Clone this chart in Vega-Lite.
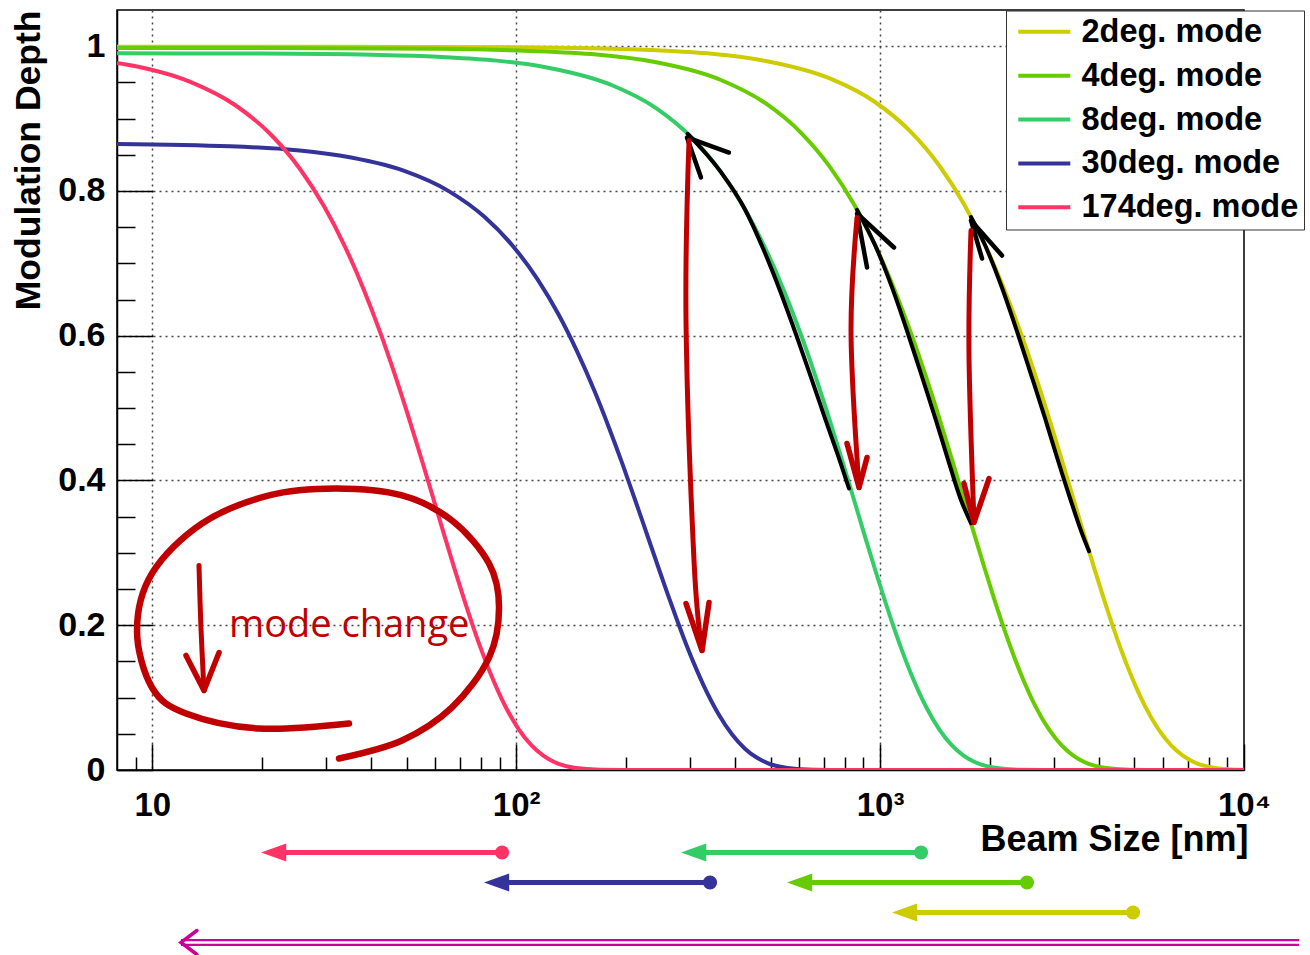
{
  "$schema": "https://vega.github.io/schema/vega-lite/v6.json",
  "background": "white",
  "padding": {"left": 10, "top": 9, "right": 0, "bottom": 0},
  "config": {"view": {"stroke": null}, "font": "Liberation Sans"},
  "bounds": "flush",
  "spacing": 67.5,
  "resolve": {"scale": {"x": "independent", "color": "independent"}},
  "datasets": {
    "curves": [
      {"mode": "2deg. mode", "sigma": 8, "M": 0.99939},
      {"mode": "2deg. mode", "sigma": 30, "M": 0.99931},
      {"mode": "2deg. mode", "sigma": 100, "M": 0.99854},
      {"mode": "2deg. mode", "sigma": 150, "M": 0.99748},
      {"mode": "2deg. mode", "sigma": 242.6, "M": 0.9944},
      {"mode": "2deg. mode", "sigma": 485.2, "M": 0.9796},
      {"mode": "2deg. mode", "sigma": 727.7, "M": 0.95542},
      {"mode": "2deg. mode", "sigma": 970.3, "M": 0.92256},
      {"mode": "2deg. mode", "sigma": 1212.9, "M": 0.88196},
      {"mode": "2deg. mode", "sigma": 1455.5, "M": 0.83476},
      {"mode": "2deg. mode", "sigma": 1698.0, "M": 0.78222},
      {"mode": "2deg. mode", "sigma": 1940.6, "M": 0.72571},
      {"mode": "2deg. mode", "sigma": 2183.2, "M": 0.66657},
      {"mode": "2deg. mode", "sigma": 2425.8, "M": 0.60616},
      {"mode": "2deg. mode", "sigma": 2668.3, "M": 0.54574},
      {"mode": "2deg. mode", "sigma": 2910.9, "M": 0.48645},
      {"mode": "2deg. mode", "sigma": 3153.5, "M": 0.4293},
      {"mode": "2deg. mode", "sigma": 3396.1, "M": 0.37508},
      {"mode": "2deg. mode", "sigma": 3638.6, "M": 0.32445},
      {"mode": "2deg. mode", "sigma": 3881.2, "M": 0.27787},
      {"mode": "2deg. mode", "sigma": 4123.8, "M": 0.23561},
      {"mode": "2deg. mode", "sigma": 4366.4, "M": 0.19778},
      {"mode": "2deg. mode", "sigma": 4608.9, "M": 0.16437},
      {"mode": "2deg. mode", "sigma": 4851.5, "M": 0.13526},
      {"mode": "2deg. mode", "sigma": 5336.7, "M": 0.08887},
      {"mode": "2deg. mode", "sigma": 5821.8, "M": 0.0561},
      {"mode": "2deg. mode", "sigma": 6307.0, "M": 0.03403},
      {"mode": "2deg. mode", "sigma": 6792.1, "M": 0.01983},
      {"mode": "2deg. mode", "sigma": 7277.3, "M": 0.0111},
      {"mode": "2deg. mode", "sigma": 8247.6, "M": 0.00309},
      {"mode": "2deg. mode", "sigma": 9703, "M": 0.00034},
      {"mode": "2deg. mode", "sigma": 10000, "M": 0.0002},

      {"mode": "4deg. mode", "sigma": 8, "M": 0.99756},
      {"mode": "4deg. mode", "sigma": 30, "M": 0.99725},
      {"mode": "4deg. mode", "sigma": 60, "M": 0.99634},
      {"mode": "4deg. mode", "sigma": 121.3, "M": 0.99258},
      {"mode": "4deg. mode", "sigma": 242.6, "M": 0.97781},
      {"mode": "4deg. mode", "sigma": 363.9, "M": 0.95367},
      {"mode": "4deg. mode", "sigma": 485.2, "M": 0.92087},
      {"mode": "4deg. mode", "sigma": 606.5, "M": 0.88035},
      {"mode": "4deg. mode", "sigma": 727.8, "M": 0.83323},
      {"mode": "4deg. mode", "sigma": 849.1, "M": 0.78079},
      {"mode": "4deg. mode", "sigma": 970.4, "M": 0.72438},
      {"mode": "4deg. mode", "sigma": 1091.7, "M": 0.66535},
      {"mode": "4deg. mode", "sigma": 1213.1, "M": 0.60505},
      {"mode": "4deg. mode", "sigma": 1334.4, "M": 0.54474},
      {"mode": "4deg. mode", "sigma": 1455.7, "M": 0.48556},
      {"mode": "4deg. mode", "sigma": 1577.0, "M": 0.42851},
      {"mode": "4deg. mode", "sigma": 1698.3, "M": 0.37439},
      {"mode": "4deg. mode", "sigma": 1819.6, "M": 0.32386},
      {"mode": "4deg. mode", "sigma": 1940.9, "M": 0.27736},
      {"mode": "4deg. mode", "sigma": 2062.2, "M": 0.23517},
      {"mode": "4deg. mode", "sigma": 2183.5, "M": 0.19742},
      {"mode": "4deg. mode", "sigma": 2304.8, "M": 0.16407},
      {"mode": "4deg. mode", "sigma": 2426.1, "M": 0.13501},
      {"mode": "4deg. mode", "sigma": 2668.7, "M": 0.0887},
      {"mode": "4deg. mode", "sigma": 2911.3, "M": 0.05599},
      {"mode": "4deg. mode", "sigma": 3153.9, "M": 0.03397},
      {"mode": "4deg. mode", "sigma": 3396.5, "M": 0.01979},
      {"mode": "4deg. mode", "sigma": 3639.2, "M": 0.01108},
      {"mode": "4deg. mode", "sigma": 4124.4, "M": 0.00308},
      {"mode": "4deg. mode", "sigma": 4852.2, "M": 0.00034},
      {"mode": "4deg. mode", "sigma": 6065, "M": 0.0},
      {"mode": "4deg. mode", "sigma": 10000, "M": 0.0},

      {"mode": "8deg. mode", "sigma": 8, "M": 0.99018},
      {"mode": "8deg. mode", "sigma": 20, "M": 0.98973},
      {"mode": "8deg. mode", "sigma": 40, "M": 0.98812},
      {"mode": "8deg. mode", "sigma": 60.7, "M": 0.98533},
      {"mode": "8deg. mode", "sigma": 121.4, "M": 0.97066},
      {"mode": "8deg. mode", "sigma": 182.1, "M": 0.9467},
      {"mode": "8deg. mode", "sigma": 242.8, "M": 0.91414},
      {"mode": "8deg. mode", "sigma": 303.4, "M": 0.87391},
      {"mode": "8deg. mode", "sigma": 364.1, "M": 0.82714},
      {"mode": "8deg. mode", "sigma": 424.8, "M": 0.77508},
      {"mode": "8deg. mode", "sigma": 485.5, "M": 0.71908},
      {"mode": "8deg. mode", "sigma": 546.2, "M": 0.66049},
      {"mode": "8deg. mode", "sigma": 606.9, "M": 0.60063},
      {"mode": "8deg. mode", "sigma": 667.6, "M": 0.54076},
      {"mode": "8deg. mode", "sigma": 728.3, "M": 0.48201},
      {"mode": "8deg. mode", "sigma": 789.0, "M": 0.42538},
      {"mode": "8deg. mode", "sigma": 849.7, "M": 0.37166},
      {"mode": "8deg. mode", "sigma": 910.3, "M": 0.32149},
      {"mode": "8deg. mode", "sigma": 971.0, "M": 0.27533},
      {"mode": "8deg. mode", "sigma": 1031.7, "M": 0.23346},
      {"mode": "8deg. mode", "sigma": 1092.4, "M": 0.19597},
      {"mode": "8deg. mode", "sigma": 1153.1, "M": 0.16287},
      {"mode": "8deg. mode", "sigma": 1213.8, "M": 0.13402},
      {"mode": "8deg. mode", "sigma": 1335.2, "M": 0.08805},
      {"mode": "8deg. mode", "sigma": 1456.6, "M": 0.05558},
      {"mode": "8deg. mode", "sigma": 1577.9, "M": 0.03372},
      {"mode": "8deg. mode", "sigma": 1699.3, "M": 0.01965},
      {"mode": "8deg. mode", "sigma": 1820.7, "M": 0.011},
      {"mode": "8deg. mode", "sigma": 2063.5, "M": 0.00306},
      {"mode": "8deg. mode", "sigma": 2427.6, "M": 0.00034},
      {"mode": "8deg. mode", "sigma": 3034.5, "M": 0.0},
      {"mode": "8deg. mode", "sigma": 10000, "M": 0.0},

      {"mode": "30deg. mode", "sigma": 8, "M": 0.86499},
      {"mode": "30deg. mode", "sigma": 16.36, "M": 0.86171},
      {"mode": "30deg. mode", "sigma": 32.71, "M": 0.84887},
      {"mode": "30deg. mode", "sigma": 49.07, "M": 0.82792},
      {"mode": "30deg. mode", "sigma": 65.43, "M": 0.79945},
      {"mode": "30deg. mode", "sigma": 81.79, "M": 0.76427},
      {"mode": "30deg. mode", "sigma": 98.14, "M": 0.72337},
      {"mode": "30deg. mode", "sigma": 114.5, "M": 0.67784},
      {"mode": "30deg. mode", "sigma": 130.9, "M": 0.62887},
      {"mode": "30deg. mode", "sigma": 147.2, "M": 0.57763},
      {"mode": "30deg. mode", "sigma": 163.6, "M": 0.52527},
      {"mode": "30deg. mode", "sigma": 179.9, "M": 0.47291},
      {"mode": "30deg. mode", "sigma": 196.3, "M": 0.42154},
      {"mode": "30deg. mode", "sigma": 212.6, "M": 0.37201},
      {"mode": "30deg. mode", "sigma": 229.0, "M": 0.32503},
      {"mode": "30deg. mode", "sigma": 245.4, "M": 0.28116},
      {"mode": "30deg. mode", "sigma": 261.7, "M": 0.24079},
      {"mode": "30deg. mode", "sigma": 278.1, "M": 0.20417},
      {"mode": "30deg. mode", "sigma": 294.4, "M": 0.17139},
      {"mode": "30deg. mode", "sigma": 310.8, "M": 0.14244},
      {"mode": "30deg. mode", "sigma": 327.1, "M": 0.11721},
      {"mode": "30deg. mode", "sigma": 359.9, "M": 0.07701},
      {"mode": "30deg. mode", "sigma": 392.6, "M": 0.04861},
      {"mode": "30deg. mode", "sigma": 425.3, "M": 0.02949},
      {"mode": "30deg. mode", "sigma": 458.0, "M": 0.01718},
      {"mode": "30deg. mode", "sigma": 490.7, "M": 0.00962},
      {"mode": "30deg. mode", "sigma": 556.1, "M": 0.00268},
      {"mode": "30deg. mode", "sigma": 654.3, "M": 0.00029},
      {"mode": "30deg. mode", "sigma": 817.9, "M": 0.0},
      {"mode": "30deg. mode", "sigma": 10000, "M": 0.0},

      {"mode": "174deg. mode", "sigma": 8, "M": 0.97697},
      {"mode": "174deg. mode", "sigma": 8.48, "M": 0.97483},
      {"mode": "174deg. mode", "sigma": 12.72, "M": 0.95076},
      {"mode": "174deg. mode", "sigma": 16.96, "M": 0.91806},
      {"mode": "174deg. mode", "sigma": 21.2, "M": 0.87766},
      {"mode": "174deg. mode", "sigma": 25.44, "M": 0.83069},
      {"mode": "174deg. mode", "sigma": 29.68, "M": 0.77841},
      {"mode": "174deg. mode", "sigma": 33.92, "M": 0.72217},
      {"mode": "174deg. mode", "sigma": 38.16, "M": 0.66332},
      {"mode": "174deg. mode", "sigma": 42.4, "M": 0.60321},
      {"mode": "174deg. mode", "sigma": 46.63, "M": 0.54308},
      {"mode": "174deg. mode", "sigma": 50.87, "M": 0.48408},
      {"mode": "174deg. mode", "sigma": 55.11, "M": 0.42721},
      {"mode": "174deg. mode", "sigma": 59.35, "M": 0.37325},
      {"mode": "174deg. mode", "sigma": 63.59, "M": 0.32287},
      {"mode": "174deg. mode", "sigma": 67.83, "M": 0.27652},
      {"mode": "174deg. mode", "sigma": 72.07, "M": 0.23446},
      {"mode": "174deg. mode", "sigma": 76.31, "M": 0.19682},
      {"mode": "174deg. mode", "sigma": 80.55, "M": 0.16357},
      {"mode": "174deg. mode", "sigma": 84.79, "M": 0.1346},
      {"mode": "174deg. mode", "sigma": 93.27, "M": 0.08843},
      {"mode": "174deg. mode", "sigma": 101.75, "M": 0.05582},
      {"mode": "174deg. mode", "sigma": 110.23, "M": 0.03386},
      {"mode": "174deg. mode", "sigma": 118.71, "M": 0.01973},
      {"mode": "174deg. mode", "sigma": 127.19, "M": 0.01105},
      {"mode": "174deg. mode", "sigma": 144.14, "M": 0.00307},
      {"mode": "174deg. mode", "sigma": 169.58, "M": 0.00034},
      {"mode": "174deg. mode", "sigma": 211.98, "M": 0.0},
      {"mode": "174deg. mode", "sigma": 10000, "M": 0.0}
    ],
    "blackArcs": [
      {"stroke": "A", "i": 0, "sigma": 296, "M": 0.879},
      {"stroke": "A", "i": 1, "sigma": 364.1, "M": 0.8271},
      {"stroke": "A", "i": 2, "sigma": 424.8, "M": 0.7751},
      {"stroke": "A", "i": 3, "sigma": 478.2, "M": 0.7191},
      {"stroke": "A", "i": 4, "sigma": 532.5, "M": 0.6605},
      {"stroke": "A", "i": 5, "sigma": 588.7, "M": 0.6006},
      {"stroke": "A", "i": 6, "sigma": 647.6, "M": 0.5408},
      {"stroke": "A", "i": 7, "sigma": 710.1, "M": 0.482},
      {"stroke": "A", "i": 8, "sigma": 777.2, "M": 0.4254},
      {"stroke": "A", "i": 9, "sigma": 821, "M": 0.389},
      {"stroke": "B", "i": 0, "sigma": 864.3, "M": 0.7739},
      {"stroke": "B", "i": 1, "sigma": 970.4, "M": 0.7244},
      {"stroke": "B", "i": 2, "sigma": 1080.8, "M": 0.6654},
      {"stroke": "B", "i": 3, "sigma": 1188.8, "M": 0.6051},
      {"stroke": "B", "i": 4, "sigma": 1301.0, "M": 0.5447},
      {"stroke": "B", "i": 5, "sigma": 1419.3, "M": 0.4856},
      {"stroke": "B", "i": 6, "sigma": 1537.6, "M": 0.4285},
      {"stroke": "B", "i": 7, "sigma": 1664.3, "M": 0.3744},
      {"stroke": "B", "i": 8, "sigma": 1777.5, "M": 0.3409},
      {"stroke": "C", "i": 0, "sigma": 1777.5, "M": 0.764},
      {"stroke": "C", "i": 1, "sigma": 1940.6, "M": 0.7257},
      {"stroke": "C", "i": 2, "sigma": 2161.4, "M": 0.6666},
      {"stroke": "C", "i": 3, "sigma": 2377.3, "M": 0.6062},
      {"stroke": "C", "i": 4, "sigma": 2601.6, "M": 0.5457},
      {"stroke": "C", "i": 5, "sigma": 2838.1, "M": 0.4865},
      {"stroke": "C", "i": 6, "sigma": 3074.7, "M": 0.4293},
      {"stroke": "C", "i": 7, "sigma": 3328.2, "M": 0.3751},
      {"stroke": "C", "i": 8, "sigma": 3602.2, "M": 0.3245},
      {"stroke": "C", "i": 9, "sigma": 3751, "M": 0.3023}
    ],
    "blackHeads": [
      {"stroke": "A", "i": 0, "sigma": 384.3, "M": 0.8531},
      {"stroke": "A", "i": 1, "sigma": 294.7, "M": 0.8739},
      {"stroke": "A", "i": 2, "sigma": 322.0, "M": 0.8186},
      {"stroke": "B", "i": 0, "sigma": 1092, "M": 0.7219},
      {"stroke": "B", "i": 1, "sigma": 864.3, "M": 0.7689},
      {"stroke": "B", "i": 2, "sigma": 920.6, "M": 0.6943},
      {"stroke": "C", "i": 0, "sigma": 2163, "M": 0.7108},
      {"stroke": "C", "i": 1, "sigma": 1777.5, "M": 0.7592},
      {"stroke": "C", "i": 2, "sigma": 1906, "M": 0.7067}
    ],
    "redStems": [
      {"stroke": "A", "i": 0, "sigma": 298.5, "M": 0.8697},
      {"stroke": "A", "i": 1, "sigma": 292.9, "M": 0.621},
      {"stroke": "A", "i": 2, "sigma": 308.1, "M": 0.2894},
      {"stroke": "A", "i": 3, "sigma": 324.1, "M": 0.1651},
      {"stroke": "B", "i": 0, "sigma": 864.3, "M": 0.7633},
      {"stroke": "B", "i": 1, "sigma": 832.1, "M": 0.6031},
      {"stroke": "B", "i": 2, "sigma": 875.3, "M": 0.3903},
      {"stroke": "C", "i": 0, "sigma": 1777.5, "M": 0.7454},
      {"stroke": "C", "i": 1, "sigma": 1755, "M": 0.5754},
      {"stroke": "C", "i": 2, "sigma": 1812, "M": 0.342},
      {"stroke": "D", "i": 0, "sigma": 13.44, "M": 0.2826},
      {"stroke": "D", "i": 1, "sigma": 13.6, "M": 0.2},
      {"stroke": "D", "i": 2, "sigma": 13.87, "M": 0.1098}
    ],
    "redHeads": [
      {"stroke": "A", "i": 0, "sigma": 292.9, "M": 0.23},
      {"stroke": "A", "i": 1, "sigma": 324.1, "M": 0.1651},
      {"stroke": "A", "i": 2, "sigma": 338.8, "M": 0.2314},
      {"stroke": "B", "i": 0, "sigma": 811.2, "M": 0.4511},
      {"stroke": "B", "i": 1, "sigma": 875.3, "M": 0.3903},
      {"stroke": "B", "i": 2, "sigma": 920.6, "M": 0.4318},
      {"stroke": "C", "i": 0, "sigma": 1700, "M": 0.3958},
      {"stroke": "C", "i": 1, "sigma": 1812, "M": 0.342},
      {"stroke": "C", "i": 2, "sigma": 1992, "M": 0.4027},
      {"stroke": "D", "i": 0, "sigma": 12.38, "M": 0.1582},
      {"stroke": "D", "i": 1, "sigma": 13.87, "M": 0.1098},
      {"stroke": "D", "i": 2, "sigma": 15.26, "M": 0.1623}
    ],
    "ellipse": [
      {"i": 0, "sigma": 34.72, "M": 0.0642},
      {"i": 1, "sigma": 19.65, "M": 0.0573},
      {"i": 2, "sigma": 12.38, "M": 0.0781},
      {"i": 3, "sigma": 9.98, "M": 0.114},
      {"i": 4, "sigma": 9.08, "M": 0.1927},
      {"i": 5, "sigma": 9.98, "M": 0.2715},
      {"i": 6, "sigma": 13.7, "M": 0.3406},
      {"i": 7, "sigma": 20.93, "M": 0.3793},
      {"i": 8, "sigma": 31.98, "M": 0.3889},
      {"i": 9, "sigma": 48.57, "M": 0.3793},
      {"i": 10, "sigma": 66.63, "M": 0.3447},
      {"i": 11, "sigma": 84.21, "M": 0.2853},
      {"i": 12, "sigma": 89.72, "M": 0.2245},
      {"i": 13, "sigma": 84.21, "M": 0.1554},
      {"i": 14, "sigma": 66.63, "M": 0.0864},
      {"i": 15, "sigma": 48.57, "M": 0.0408},
      {"i": 16, "sigma": 32.59, "M": 0.0159}
    ],
    "note": [{"label": "mode change", "sigma": 16.25, "M": 0.1831}],
    "arrows": [
      {"mode": "174deg. mode", "row": 1, "from": 91.44, "base": 23.31, "tip": 19.9},
      {"mode": "8deg. mode", "row": 1, "from": 1295.6, "base": 332.4, "tip": 283.8},
      {"mode": "30deg. mode", "row": 2, "from": 340.9, "base": 95.56, "tip": 81.56},
      {"mode": "4deg. mode", "row": 2, "from": 2533, "base": 650.1, "tip": 554.9},
      {"mode": "2deg. mode", "row": 3, "from": 4955, "base": 1263.2, "tip": 1078.3}
    ],
    "overall": [{"row": 4, "from": 14166, "tip": 11.99}]
  },
  "vconcat": [
    {
      "width": 1127,
      "height": 760,
      "view": {"stroke": "black", "strokeWidth": 1.5},
      "encoding": {
        "x": {
          "field": "sigma", "type": "quantitative",
          "scale": {"type": "log", "domain": [8, 10000], "nice": false},
          "axis": {
            "values": [9, 10, 20, 30, 40, 50, 60, 70, 80, 90, 100, 200, 300, 400, 500, 600, 700, 800, 900, 1000, 2000, 3000, 4000, 5000, 6000, 7000, 8000, 9000, 10000],
            "labelExpr": "datum.value == 10 ? '10' : datum.value == 100 ? '10²' : datum.value == 1000 ? '10³' : datum.value == 10000 ? '10⁴' : ''",
            "tickSize": {"condition": {"test": "indexof([10,100,1000,10000], datum.value) >= 0", "value": -26}, "value": -13},
            "tickColor": "black", "tickWidth": 1.5,
            "domainColor": "black", "domainWidth": 1.5,
            "grid": true,
            "gridOpacity": {"condition": {"test": "indexof([10,100,1000], datum.value) >= 0", "value": 1}, "value": 0},
            "gridDash": [2, 4], "gridColor": "#444", "gridWidth": 1.5,
            "labelFont": "Liberation Sans", "labelFontWeight": "bold", "labelFontSize": 33, "labelColor": "black",
            "labelPadding": 45, "labelOverlap": false, "labelFlush": false,
            "title": "Beam Size [nm]",
            "titleFont": "Liberation Sans", "titleFontWeight": "bold", "titleFontSize": 36, "titleColor": "black",
            "titleX": 1131, "titleY": 80, "titleAlign": "right", "titleBaseline": "alphabetic", "titleAnchor": null
          }
        },
        "y": {
          "field": "M", "type": "quantitative",
          "scale": {"domain": [0, 1.05], "nice": false, "zero": false},
          "axis": {
            "values": [0, 0.05, 0.1, 0.15, 0.2, 0.25, 0.3, 0.35, 0.4, 0.45, 0.5, 0.55, 0.6, 0.65, 0.7, 0.75, 0.8, 0.85, 0.9, 0.95, 1],
            "labelExpr": "indexof([0,0.2,0.4,0.6,0.8,1], datum.value) >= 0 ? format(datum.value, '~g') : ''",
            "tickSize": {"condition": {"test": "indexof([0,0.2,0.4,0.6,0.8,1], datum.value) >= 0", "value": -36}, "value": -18},
            "tickColor": "black", "tickWidth": 1.5,
            "domainColor": "black", "domainWidth": 1.5,
            "grid": true,
            "gridOpacity": {"condition": {"test": "indexof([0.2,0.4,0.6,0.8,1], datum.value) >= 0", "value": 1}, "value": 0},
            "gridDash": [2, 4], "gridColor": "#444", "gridWidth": 1.5,
            "labelFont": "Liberation Sans", "labelFontWeight": "bold", "labelFontSize": 34, "labelColor": "black",
            "labelPadding": 48, "labelOverlap": false, "labelFlush": false,
            "title": "Modulation Depth",
            "titleFont": "Liberation Sans", "titleFontWeight": "bold", "titleFontSize": 35.5, "titleColor": "black",
            "titleX": -78, "titleY": 0, "titleAngle": -90, "titleAlign": "right", "titleBaseline": "alphabetic", "titleAnchor": null
          }
        }
      },
      "layer": [
        {
          "data": {"name": "curves"},
          "mark": {"type": "line", "strokeWidth": 4, "interpolate": "monotone", "clip": true},
          "encoding": {
            "color": {
              "field": "mode", "type": "nominal",
              "scale": {
                "domain": ["2deg. mode", "4deg. mode", "8deg. mode", "30deg. mode", "174deg. mode"],
                "range": ["#cccc00", "#66cc00", "#33cc66", "#333399", "#ff3366"]
              },
              "legend": {
                "title": null, "orient": "none", "legendX": 889, "legendY": 0.5,
                "symbolType": "M -0.69 0 L 3.31 0", "symbolSize": 676, "symbolStrokeWidth": 4,
                "labelFont": "Liberation Sans", "labelFontWeight": "bold", "labelFontSize": 32.5, "labelColor": "black",
                "labelLimit": 400, "labelOffset": 38, "rowPadding": 10.9, "padding": 5,
                "strokeColor": "#333", "fillColor": "white", "cornerRadius": 0
              }
            }
          }
        },
        {
          "data": {"name": "blackArcs"},
          "mark": {"type": "line", "color": "black", "strokeWidth": 4, "interpolate": "monotone", "strokeCap": "round"},
          "encoding": {"detail": {"field": "stroke"}, "order": {"field": "i", "type": "quantitative"}}
        },
        {
          "data": {"name": "blackHeads"},
          "mark": {"type": "line", "color": "black", "strokeWidth": 4.5, "strokeCap": "round", "strokeJoin": "round"},
          "encoding": {"detail": {"field": "stroke"}, "order": {"field": "i", "type": "quantitative"}}
        },
        {
          "data": {"name": "redStems"},
          "mark": {"type": "line", "color": "#c00000", "strokeWidth": 5, "interpolate": "cardinal", "strokeCap": "round"},
          "encoding": {"detail": {"field": "stroke"}, "order": {"field": "i", "type": "quantitative"}}
        },
        {
          "data": {"name": "redHeads"},
          "mark": {"type": "line", "color": "#c00000", "strokeWidth": 5.5, "strokeCap": "round", "strokeJoin": "round"},
          "encoding": {"detail": {"field": "stroke"}, "order": {"field": "i", "type": "quantitative"}}
        },
        {
          "data": {"name": "ellipse"},
          "mark": {"type": "line", "color": "#c00000", "strokeWidth": 6.5, "interpolate": "cardinal", "strokeCap": "round"},
          "encoding": {"order": {"field": "i", "type": "quantitative"}}
        },
        {
          "data": {"name": "note"},
          "mark": {"type": "text", "font": "Open Sans", "fontSize": 38, "color": "#c00000", "align": "left", "baseline": "alphabetic"},
          "encoding": {"text": {"field": "label"}}
        }
      ]
    },
    {
      "width": 1127,
      "height": 120,
      "view": {"stroke": null},
      "encoding": {
        "y": {"field": "row", "type": "ordinal", "axis": null, "scale": {"domain": [1, 2, 3, 4], "type": "point", "padding": 0.5}}
      },
      "layer": [
        {
          "data": {"name": "arrows"},
          "mark": {"type": "rule", "strokeWidth": 5},
          "encoding": {
            "x": {"field": "from", "type": "quantitative", "scale": {"type": "log", "domain": [8, 10000], "nice": false}, "axis": null},
            "x2": {"field": "base"},
            "color": {"field": "mode", "type": "nominal", "legend": null,
              "scale": {"domain": ["2deg. mode", "4deg. mode", "8deg. mode", "30deg. mode", "174deg. mode"],
                        "range": ["#cccc00", "#66cc00", "#33cc66", "#333399", "#ff3366"]}}
          }
        },
        {
          "data": {"name": "arrows"},
          "mark": {"type": "point", "shape": "M 0 0 L 2.8 -1 L 2.8 1 Z", "size": 324, "filled": true, "opacity": 1, "strokeWidth": 0},
          "encoding": {
            "x": {"field": "tip", "type": "quantitative"},
            "color": {"field": "mode", "type": "nominal", "legend": null}
          }
        },
        {
          "data": {"name": "arrows"},
          "mark": {"type": "point", "shape": "circle", "size": 200, "filled": true, "opacity": 1, "strokeWidth": 0},
          "encoding": {
            "x": {"field": "from", "type": "quantitative"},
            "color": {"field": "mode", "type": "nominal", "legend": null}
          }
        },
        {
          "data": {"name": "overall"},
          "mark": {"type": "rule", "strokeWidth": 7, "color": "#cc0099"},
          "encoding": {"x": {"field": "from", "type": "quantitative"}, "x2": {"field": "tip"}}
        },
        {
          "data": {"name": "overall"},
          "mark": {"type": "rule", "strokeWidth": 2.5, "color": "white"},
          "encoding": {"x": {"field": "from", "type": "quantitative"}, "x2": {"field": "tip"}}
        },
        {
          "data": {"name": "overall"},
          "mark": {"type": "point", "shape": "M 1.6 -1.2 L 0 0 L 1.6 1.2", "size": 400, "filled": false, "opacity": 1, "strokeWidth": 3.5, "color": "#cc0099", "strokeCap": "round"},
          "encoding": {"x": {"field": "tip", "type": "quantitative"}}
        }
      ]
    }
  ]
}
